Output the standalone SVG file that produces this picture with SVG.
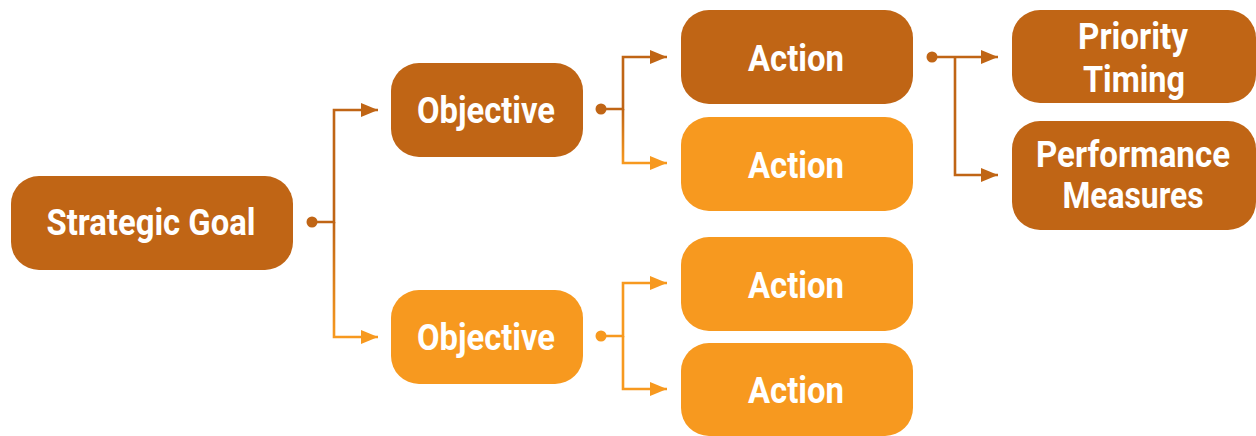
<svg xmlns="http://www.w3.org/2000/svg" width="1256" height="436" viewBox="0 0 1256 436">
<style>
.dark{fill:#C06515}
.light{fill:#F7991F}
.t{font-family:Roboto,"Liberation Sans",sans-serif;font-weight:700;font-size:37px;fill:#fff;text-anchor:middle}
.c{fill:none;stroke-width:2.6}
.cd{stroke:#C06515}
.cl{stroke:#F7991F}
</style>
<defs>
<marker id="ad" markerUnits="userSpaceOnUse" markerWidth="18" markerHeight="15" refX="17" refY="7" orient="auto"><path d="M0,0 L17,7 L0,14 z" fill="#C06515"/></marker>
<marker id="al" markerUnits="userSpaceOnUse" markerWidth="18" markerHeight="15" refX="17" refY="7" orient="auto"><path d="M0,0 L17,7 L0,14 z" fill="#F7991F"/></marker>
<linearGradient id="g1" gradientUnits="userSpaceOnUse" x1="0" y1="222" x2="0" y2="337"><stop offset="0" stop-color="#C06515"/><stop offset="1" stop-color="#F7991F"/></linearGradient>
<linearGradient id="g2" gradientUnits="userSpaceOnUse" x1="0" y1="109" x2="0" y2="163"><stop offset="0" stop-color="#C06515"/><stop offset="1" stop-color="#F7991F"/></linearGradient>
</defs>
<g id="connectors">
<circle cx="312" cy="222" r="5.5" fill="#C06515"/>
<path class="c cd" d="M312,222 H334 V110 H378" marker-end="url(#ad)"/>
<path class="c" stroke="url(#g1)" d="M334,222 V337 H378" marker-end="url(#al)"/>
<circle cx="601" cy="109" r="5.5" fill="#C06515"/>
<path class="c cd" d="M601,109 H623 V57 H667" marker-end="url(#ad)"/>
<path class="c" stroke="url(#g2)" d="M623,109 V163 H667" marker-end="url(#al)"/>
<circle cx="601" cy="336" r="5.5" fill="#F7991F"/>
<path class="c cl" d="M601,336 H623 V283 H667" marker-end="url(#al)"/>
<path class="c cl" d="M623,336 V389 H667" marker-end="url(#al)"/>
<circle cx="932" cy="57" r="5.5" fill="#C06515"/>
<path class="c cd" d="M932,57 H998" marker-end="url(#ad)"/>
<path class="c cd" d="M955,57 V175 H998" marker-end="url(#ad)"/>
</g>
<g id="strategic-goal">
<rect class="dark" x="11" y="176" width="282" height="94" rx="28"/>
<text class="t" x="151" y="235" textLength="209" lengthAdjust="spacingAndGlyphs">Strategic Goal</text>
</g>
<g id="objective-1">
<rect class="dark" x="391" y="63" width="192" height="94" rx="28"/>
<text class="t" x="486" y="123" textLength="138" lengthAdjust="spacingAndGlyphs">Objective</text>
</g>
<g id="objective-2">
<rect class="light" x="391" y="290" width="192" height="94" rx="28"/>
<text class="t" x="486" y="350" textLength="138" lengthAdjust="spacingAndGlyphs">Objective</text>
</g>
<g id="action-1">
<rect class="dark" x="681" y="10" width="232" height="94" rx="28"/>
<text class="t" x="796" y="71" textLength="96" lengthAdjust="spacingAndGlyphs">Action</text>
</g>
<g id="action-2">
<rect class="light" x="681" y="117" width="232" height="94" rx="28"/>
<text class="t" x="796" y="178" textLength="96" lengthAdjust="spacingAndGlyphs">Action</text>
</g>
<g id="action-3">
<rect class="light" x="681" y="237" width="232" height="94" rx="28"/>
<text class="t" x="796" y="298" textLength="96" lengthAdjust="spacingAndGlyphs">Action</text>
</g>
<g id="action-4">
<rect class="light" x="681" y="343" width="232" height="93" rx="28"/>
<text class="t" x="796" y="403" textLength="96" lengthAdjust="spacingAndGlyphs">Action</text>
</g>
<g id="priority-timing">
<rect class="dark" x="1012" y="10" width="244" height="93" rx="28"/>
<text class="t" x="1133" y="49" textLength="110" lengthAdjust="spacingAndGlyphs">Priority</text>
<text class="t" x="1134" y="92" textLength="102" lengthAdjust="spacingAndGlyphs">Timing</text>
</g>
<g id="performance-measures">
<rect class="dark" x="1012" y="121" width="244" height="109" rx="28"/>
<text class="t" x="1133" y="167" textLength="194" lengthAdjust="spacingAndGlyphs">Performance</text>
<text class="t" x="1133" y="208" textLength="141" lengthAdjust="spacingAndGlyphs">Measures</text>
</g>
</svg>
